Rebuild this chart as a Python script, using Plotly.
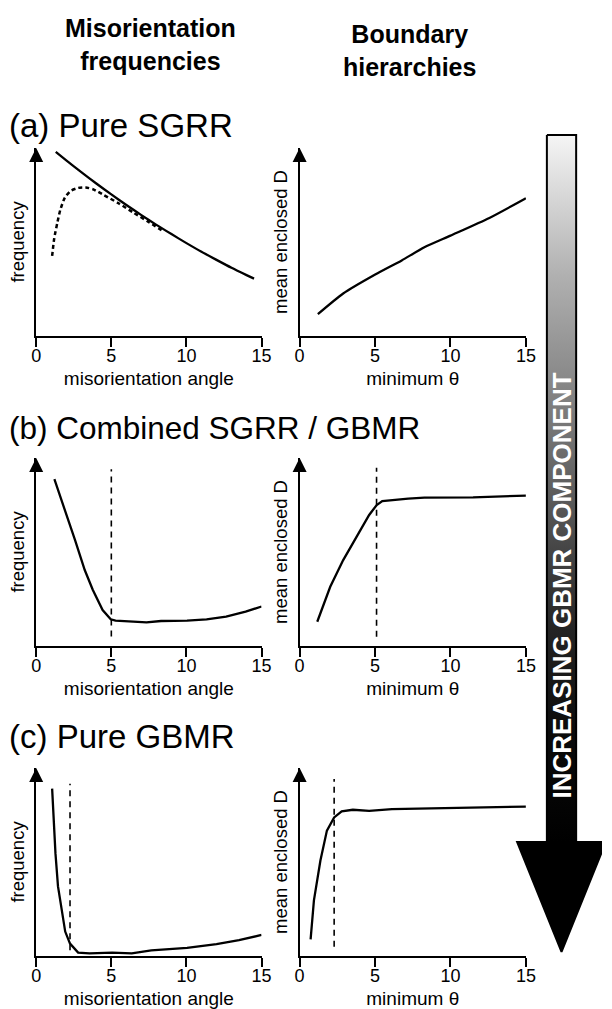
import plotly.graph_objects as go

FONT = "Liberation Sans, Arial, Helvetica, sans-serif"
W, H = 612, 1009

# ---- data (angles in degrees, responses in arbitrary units 0-10) ----
# (a) pure SGRR
a_freq_x = [1.3, 2, 3, 4, 5, 6, 7, 8, 9, 10, 11, 12, 13, 14, 14.5]
a_freq_y = [9.79, 9.34, 8.72, 8.11, 7.53, 6.97, 6.43, 5.91, 5.42, 4.94, 4.48, 4.05, 3.63, 3.24, 3.05]
a_obs_x = [1.06, 1.2, 1.4, 1.6, 1.9, 2.3, 2.8, 3.3, 3.8, 4.5, 5.5, 6.5, 7.5, 8.5]
a_obs_y = [4.26, 5.2, 6.0, 6.7, 7.35, 7.72, 7.88, 7.90, 7.80, 7.50, 7.05, 6.55, 6.06, 5.55]
a_hier_x = [1.21, 2.89, 5.04, 6.77, 8.27, 10.0, 12.58, 15.0]
a_hier_y = [1.16, 2.26, 3.28, 4.02, 4.72, 5.34, 6.28, 7.33]

# (b) combined SGRR / GBMR
b_freq_x = [1.21, 1.93, 2.58, 3.23, 3.77, 4.42, 4.96, 5.28, 6.58, 7.34, 8.31, 10.04, 11.34, 12.64, 13.94, 15.0]
b_freq_y = [8.87, 7.23, 5.64, 4.04, 2.98, 1.91, 1.42, 1.35, 1.31, 1.26, 1.33, 1.35, 1.42, 1.56, 1.83, 2.10]
b_hier_x = [1.17, 2.03, 2.89, 3.75, 4.61, 5.11, 5.48, 7.2, 8.27, 11.5, 15.0]
b_hier_y = [1.29, 3.15, 4.57, 5.81, 6.97, 7.50, 7.71, 7.84, 7.89, 7.91, 8.0]
b_cut_freq, b_cut_hier = 5.0, 5.1
b_cut_freq_y, b_cut_hier_y = [0.5, 9.4], [0.49, 9.48]

# (c) pure GBMR
c_freq_x = [1.06, 1.28, 1.45, 1.71, 1.93, 2.25, 2.79, 3.55, 5.06, 6.36, 7.66, 10.04, 12.0, 13.5, 15.0]
c_freq_y = [8.9, 5.47, 3.7, 2.27, 1.30, 0.66, 0.18, 0.14, 0.18, 0.14, 0.30, 0.43, 0.63, 0.84, 1.12]
c_hier_x = [0.73, 0.95, 1.38, 1.81, 2.29, 2.79, 3.53, 4.61, 6.12, 9.35, 15.0]
c_hier_y = [0.88, 2.96, 5.08, 6.67, 7.37, 7.69, 7.78, 7.72, 7.81, 7.87, 7.95]
c_cut_freq, c_cut_hier = 2.25, 2.29
c_cut_freq_y, c_cut_hier_y = [0.30, 9.16], [0.49, 9.41]

x_ticks = [0, 5, 10, 15]
x_tick_text = ["0", "5", "10", "15"]
row_titles = ["(a) Pure SGRR", "(b) Combined SGRR / GBMR", "(c) Pure GBMR"]
col_titles = ["<b>Misorientation<br>frequencies</b>", "<b>Boundary<br>hierarchies</b>"]
x_titles = ["misorientation angle", "minimum θ"]
y_titles = ["frequency", "mean enclosed D"]
trend_label = "INCREASING GBMR COMPONENT"

# ---- layout geometry (pixels) ----
col_px = [(32, 263), (302, 534)]                 # x=0 .. x=15
row_px = [(336, 148), (646, 458), (956, 768)]    # y=0 .. y=10
row_title_px = [126, 428, 736]
row_title_size = [33, 31.5, 33]
col_title_px = [(149, 44), (415, 50)]


def px_x(p):
    return p / W


def px_y(p):
    return 1 - p / H


fig = go.Figure()
layout = dict(
    width=W, height=H, margin=dict(l=0, r=0, t=0, b=0),
    paper_bgcolor="white", plot_bgcolor="rgba(0,0,0,0)",
    showlegend=False, font=dict(family=FONT, color="black"),
)
annotations = []

axis_id = 0
for r, (y0, y1) in enumerate(row_px):
    for c, (x0, x1) in enumerate(col_px):
        axis_id += 1
        sfx = "" if axis_id == 1 else str(axis_id)
        layout["xaxis" + sfx] = dict(
            domain=[px_x(x0), px_x(x1)], range=[0, 15], anchor="y" + sfx,
            showgrid=False, zeroline=False, showline=True, linecolor="black", linewidth=2,
            ticks="outside", tickvals=x_ticks, ticktext=x_tick_text, ticklen=9, tickwidth=2,
            tickcolor="black", tickfont=dict(size=18, family=FONT), ticklabelstandoff=-7,
            title=dict(text=x_titles[c], font=dict(size=19, family=FONT), standoff=7),
            fixedrange=True,
        )
        layout["yaxis" + sfx] = dict(
            domain=[px_y(y0), px_y(y1)], range=[0, 10], anchor="x" + sfx,
            showgrid=False, zeroline=False, showline=True, linecolor="black", linewidth=2,
            ticks="", showticklabels=False,
            title=dict(text=y_titles[c], font=dict(size=18.5, family=FONT), standoff=5),
            fixedrange=True,
        )
        # arrowhead at the top of each vertical axis
        annotations.append(dict(
            xref="x" + sfx, yref="y" + sfx, axref="x" + sfx, ayref="y" + sfx,
            x=0, y=10, ax=0, ay=9.2, text="", showarrow=True,
            arrowhead=2, arrowsize=1.4, arrowwidth=2, arrowcolor="black", standoff=0,
        ))


def line(xs, ys, axis, dash="solid", width=2.3, shape="spline"):
    sfx = "" if axis == 1 else str(axis)
    fig.add_trace(go.Scatter(
        x=xs, y=ys, mode="lines", xaxis="x" + sfx, yaxis="y" + sfx,
        line=dict(color="black", width=width, dash=dash, shape=shape,
                  smoothing=0.6 if shape == "spline" else None),
        hoverinfo="skip",
    ))


# (a)
line(a_freq_x, a_freq_y, 1)
line(a_obs_x, a_obs_y, 1, dash="4px,3px", width=2.5)
line(a_hier_x, a_hier_y, 2)
# (b)
line(b_freq_x, b_freq_y, 3, shape="linear")
line([b_cut_freq, b_cut_freq], b_cut_freq_y, 3, dash="6px,5px", width=1.6, shape="linear")
line(b_hier_x, b_hier_y, 4, shape="linear")
line([b_cut_hier, b_cut_hier], b_cut_hier_y, 4, dash="6px,5px", width=1.6, shape="linear")
# (c)
line(c_freq_x, c_freq_y, 5, shape="linear")
line([c_cut_freq, c_cut_freq], c_cut_freq_y, 5, dash="6px,5px", width=1.6, shape="linear")
line(c_hier_x, c_hier_y, 6, shape="linear")
line([c_cut_hier, c_cut_hier], c_cut_hier_y, 6, dash="6px,5px", width=1.6, shape="linear")

# ---- big shaded arrow on a full-page pixel overlay ----
layout["xaxis7"] = dict(domain=[0, 1], range=[0, W], visible=False, fixedrange=True, anchor="y7")
layout["yaxis7"] = dict(domain=[0, 1], range=[H, 0], visible=False, fixedrange=True, anchor="x7")
shaft_l, shaft_r, shaft_top, head_y, head_l, head_r, tip_y = 555.5, 585.5, 135, 842, 525, 616, 952
cx = (shaft_l + shaft_r) / 2
arrow_x = [shaft_l, shaft_r, shaft_r, head_r, cx, head_l, shaft_l, shaft_l]
arrow_y = [shaft_top, shaft_top, head_y, head_y, tip_y, head_y, head_y, shaft_top]
fig.add_trace(go.Scatter(
    x=arrow_x, y=arrow_y, xaxis="x7", yaxis="y7", mode="lines", fill="toself",
    line=dict(color="black", width=2),
    fillgradient=dict(type="vertical", start=shaft_top, stop=head_y,
                      colorscale=[[0, "#f5f5f5"], [0.2, "#b0b0b0"], [0.45, "#6c6c6c"],
                                  [0.55, "#505050"], [0.7, "#242424"], [0.85, "#0a0a0a"],
                                  [1, "#000000"]]),
    hoverinfo="skip",
))
annotations.append(dict(
    xref="x7", yref="y7", x=cx, y=586, text="<b>" + trend_label + "</b>", showarrow=False,
    textangle=-90, font=dict(size=26, color="white", family=FONT),
))

# ---- column headers and row titles ----
for c, t in enumerate(col_titles):
    xc, yc = col_title_px[c]
    annotations.append(dict(
        xref="paper", yref="paper", x=px_x(xc), y=px_y(yc), text=t, showarrow=False,
        font=dict(size=25, family=FONT), xanchor="center", yanchor="middle",
    ))
for r, t in enumerate(row_titles):
    annotations.append(dict(
        xref="paper", yref="paper", x=px_x(2), y=px_y(row_title_px[r]), text=t, showarrow=False,
        font=dict(size=row_title_size[r], family=FONT), xanchor="left", yanchor="middle",
    ))

layout["annotations"] = annotations
fig.update_layout(**layout)
fig.write_html("out.html")
